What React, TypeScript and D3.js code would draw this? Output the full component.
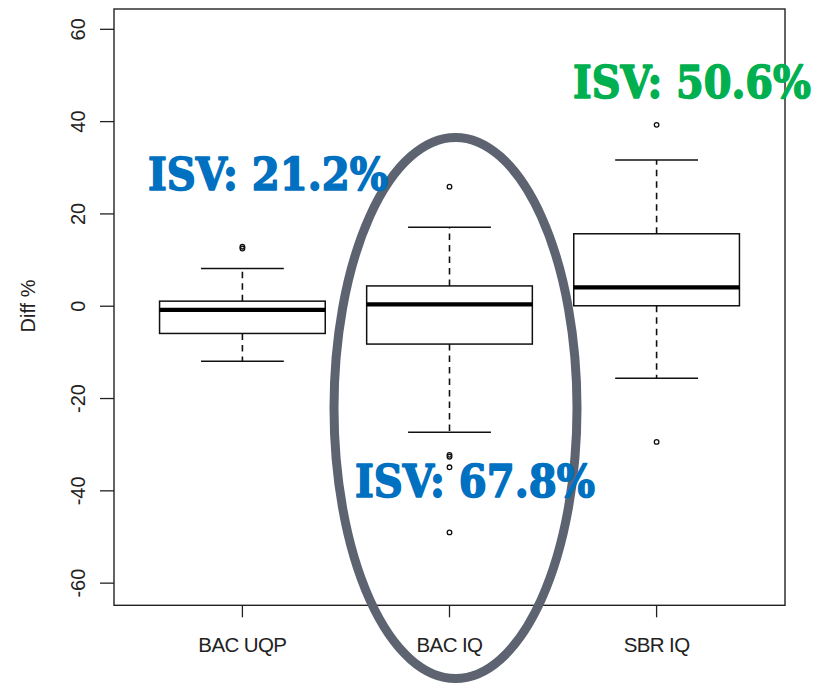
import React from "react";
import * as d3 from "d3";

const categories = ["BAC UQP", "BAC IQ", "SBR IQ"];
const lowerWhisker = [-11.9, -27.3, -15.6];
const q1 = [-5.9, -8.2, 0.1];
const median = [-0.8, 0.4, 4.1];
const q3 = [1.1, 4.4, 15.7];
const upperWhisker = [8.2, 17.1, 31.7];
const outliers = [
  [12.5, 12.9],
  [25.9, -32.2, -32.6, -34.9, -49.0],
  [39.3, -29.4],
];
const yTicks = [-60, -40, -20, 0, 20, 40, 60];
const isvLabels = ["ISV: 21.2%", "ISV: 67.8%", "ISV: 50.6%"];
const yTitle = "Diff %";

const W = 818;
const H = 684;
const plot = { left: 114, right: 785, top: 9, bottom: 605.3 };

export default function App() {
  const x = d3
    .scaleLinear()
    .domain([0.38, 3.62])
    .range([plot.left, plot.right]);
  const y = d3
    .scaleLinear()
    .domain([-64.8, 64.4])
    .range([plot.bottom, plot.top]);
  const unit = x(1) - x(0);
  const boxHalf = (0.8 * unit) / 2;
  const capHalf = boxHalf / 2;
  const axisFont = "'Liberation Sans', Arial, sans-serif";
  const txtColor = "#222";
  const annFont = "'DejaVu Serif', serif";

  // annotation placements (layout)
  const ann = [
    { x: 148, y: 190, len: 240, color: "#0070c0" },
    { x: 355, y: 496.5, len: 240, color: "#0070c0" },
    { x: 573, y: 98, len: 238, color: "#00b050" },
  ];

  return (
    <svg
      width={W}
      height={H}
      style={{ position: "absolute", left: 0, top: 0, background: "#fff" }}
    >
      <rect x={0} y={0} width={W} height={H} fill="#fff" />
      {yTicks.map((t) => (
        <g key={t}>
          <line
            x1={plot.left - 14}
            x2={plot.left}
            y1={y(t)}
            y2={y(t)}
            stroke={txtColor}
            strokeWidth={1.3}
          />
          <text
            transform={`translate(85,${y(t)}) rotate(-90)`}
            textAnchor="middle"
            fontFamily={axisFont}
            fontSize={20}
            fill={txtColor}
          >
            {t}
          </text>
        </g>
      ))}
      <text
        transform={`translate(34.5,306) rotate(-90)`}
        textAnchor="middle"
        fontFamily={axisFont}
        fontSize={20}
        fill={txtColor}
      >
        {yTitle}
      </text>
      {categories.map((c, i) => (
        <g key={c}>
          <line
            x1={x(i + 1)}
            x2={x(i + 1)}
            y1={plot.bottom}
            y2={plot.bottom + 12}
            stroke={txtColor}
            strokeWidth={1.3}
          />
          <text
            x={x(i + 1)}
            y={651.5}
            textAnchor="middle"
            fontFamily={axisFont}
            fontSize={20.5}
            letterSpacing={-0.6}
            fill={txtColor}
          >
            {c}
          </text>
        </g>
      ))}
      {categories.map((c, i) => {
        const cx = x(i + 1);
        return (
          <g key={"box" + c}>
            <line
              x1={cx}
              x2={cx}
              y1={y(q3[i])}
              y2={y(upperWhisker[i])}
              stroke="#111"
              strokeWidth={1.6}
              strokeDasharray="6.5,5"
            />
            <line
              x1={cx}
              x2={cx}
              y1={y(q1[i])}
              y2={y(lowerWhisker[i])}
              stroke="#111"
              strokeWidth={1.6}
              strokeDasharray="6.5,5"
            />
            <line
              x1={cx - capHalf}
              x2={cx + capHalf}
              y1={y(upperWhisker[i])}
              y2={y(upperWhisker[i])}
              stroke="#111"
              strokeWidth={1.5}
            />
            <line
              x1={cx - capHalf}
              x2={cx + capHalf}
              y1={y(lowerWhisker[i])}
              y2={y(lowerWhisker[i])}
              stroke="#111"
              strokeWidth={1.5}
            />
            <rect
              x={cx - boxHalf}
              y={y(q3[i])}
              width={2 * boxHalf}
              height={y(q1[i]) - y(q3[i])}
              fill="#fff"
              stroke="#111"
              strokeWidth={1.5}
            />
            <line
              x1={cx - boxHalf}
              x2={cx + boxHalf}
              y1={y(median[i])}
              y2={y(median[i])}
              stroke="#000"
              strokeWidth={4.2}
            />
            {outliers[i].map((o, j) => (
              <circle
                key={j}
                cx={cx}
                cy={y(o)}
                r={2.3}
                fill="none"
                stroke="#111"
                strokeWidth={1.3}
              />
            ))}
          </g>
        );
      })}
      <rect
        x={plot.left}
        y={plot.top}
        width={plot.right - plot.left}
        height={plot.bottom - plot.top}
        fill="none"
        stroke={txtColor}
        strokeWidth={1.4}
      />
      <ellipse
        cx={455.5}
        cy={408}
        rx={121.5}
        ry={270.5}
        fill="none"
        stroke="#5d6370"
        strokeWidth={9}
      />
      {isvLabels.map((s, i) => (
        <text
          key={s}
          x={ann[i].x}
          y={ann[i].y}
          fontFamily={annFont}
          fontWeight="bold"
          fontSize={45}
          fill={ann[i].color}
          stroke={ann[i].color}
          strokeWidth={1.6}
          strokeLinejoin="round"
          textLength={ann[i].len}
          lengthAdjust="spacingAndGlyphs"
        >
          {s}
        </text>
      ))}
    </svg>
  );
}
